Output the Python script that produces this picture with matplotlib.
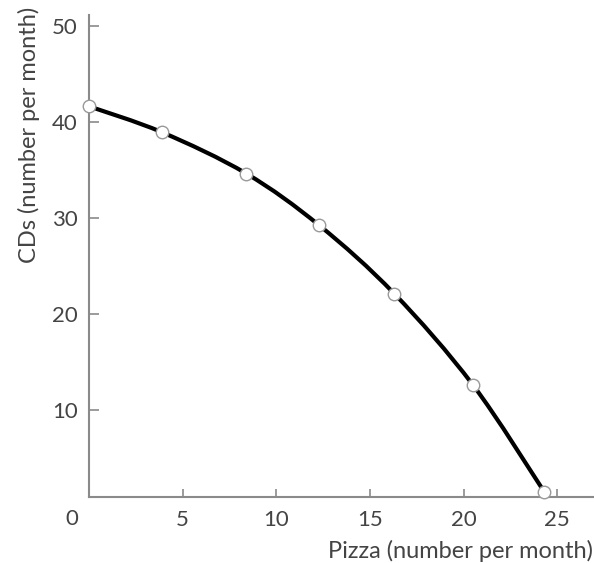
import numpy as np
import matplotlib
matplotlib.use("Agg")
import matplotlib.pyplot as plt
from matplotlib.path import Path
from matplotlib.patches import PathPatch

# production possibilities
pizza = [0, 3.9, 8.4, 12.3, 16.3, 20.5, 24.3]
cds = [41.6, 38.9, 34.6, 29.2, 22.1, 12.6, 1.5]

x_ticks = [5, 10, 15, 20, 25]
y_ticks = [10, 20, 30, 40, 50]

plt.rcParams['font.family'] = ['Lato', 'DejaVu Sans']

fig = plt.figure(figsize=(5.94, 5.63), dpi=100)
ax = fig.add_axes([0.150, 0.1172, 0.848, 0.856])

ax.set_xlim(0, 26.9)
ax.set_ylim(0.94, 51.1)


def smooth_path(xs, ys):
    # Catmull-Rom -> cubic bezier, so the curve passes through every point
    pts = np.column_stack([xs, ys])
    verts = [pts[0]]
    codes = [Path.MOVETO]
    n = len(pts)
    for i in range(n - 1):
        p0 = pts[i - 1] if i > 0 else pts[i]
        p1 = pts[i]
        p2 = pts[i + 1]
        p3 = pts[i + 2] if i + 2 < n else pts[i + 1]
        c1 = p1 + (p2 - p0) / 6.0
        c2 = p2 - (p3 - p1) / 6.0
        verts += [c1, c2, p2]
        codes += [Path.CURVE4] * 3
    return Path(verts, codes)


curve = PathPatch(smooth_path(pizza, cds), facecolor='none',
                  edgecolor='black', linewidth=3.0, capstyle='butt', zorder=3)
ax.add_patch(curve)

ax.plot(pizza, cds, linestyle='none', marker='o', markersize=9,
        markerfacecolor='white', markeredgecolor='#999999',
        markeredgewidth=1.0, zorder=4, clip_on=False)

for side in ['top', 'right']:
    ax.spines[side].set_visible(False)
for side in ['left', 'bottom']:
    ax.spines[side].set_color('#8a8a8a')
    ax.spines[side].set_linewidth(1.5)

ax.set_xticks(x_ticks)
ax.set_yticks(y_ticks)
ax.tick_params(axis='x', direction='in', length=6, width=1.2, color='#8a8a8a',
               labelsize=16, labelcolor='#444444', pad=9)
ax.tick_params(axis='y', direction='in', length=7, width=1.2, color='#8a8a8a',
               labelsize=16, labelcolor='#444444', pad=8)

# origin label sits below-left of the corner
ax.text(-0.9, -0.025, '0', transform=ax.get_xaxis_transform(), fontsize=16,
        color='#444444', ha='center', va='top')

ax.text(1.0, -0.09, 'Pizza (number per month)', transform=ax.transAxes,
        fontsize=17, color='#444444', ha='right', va='top')
fig.text(0.048, 0.76, 'CDs (number per month)', rotation=90, fontsize=17,
         color='#444444', ha='center', va='center')

fig.savefig('out.png', dpi=100, facecolor='white')
